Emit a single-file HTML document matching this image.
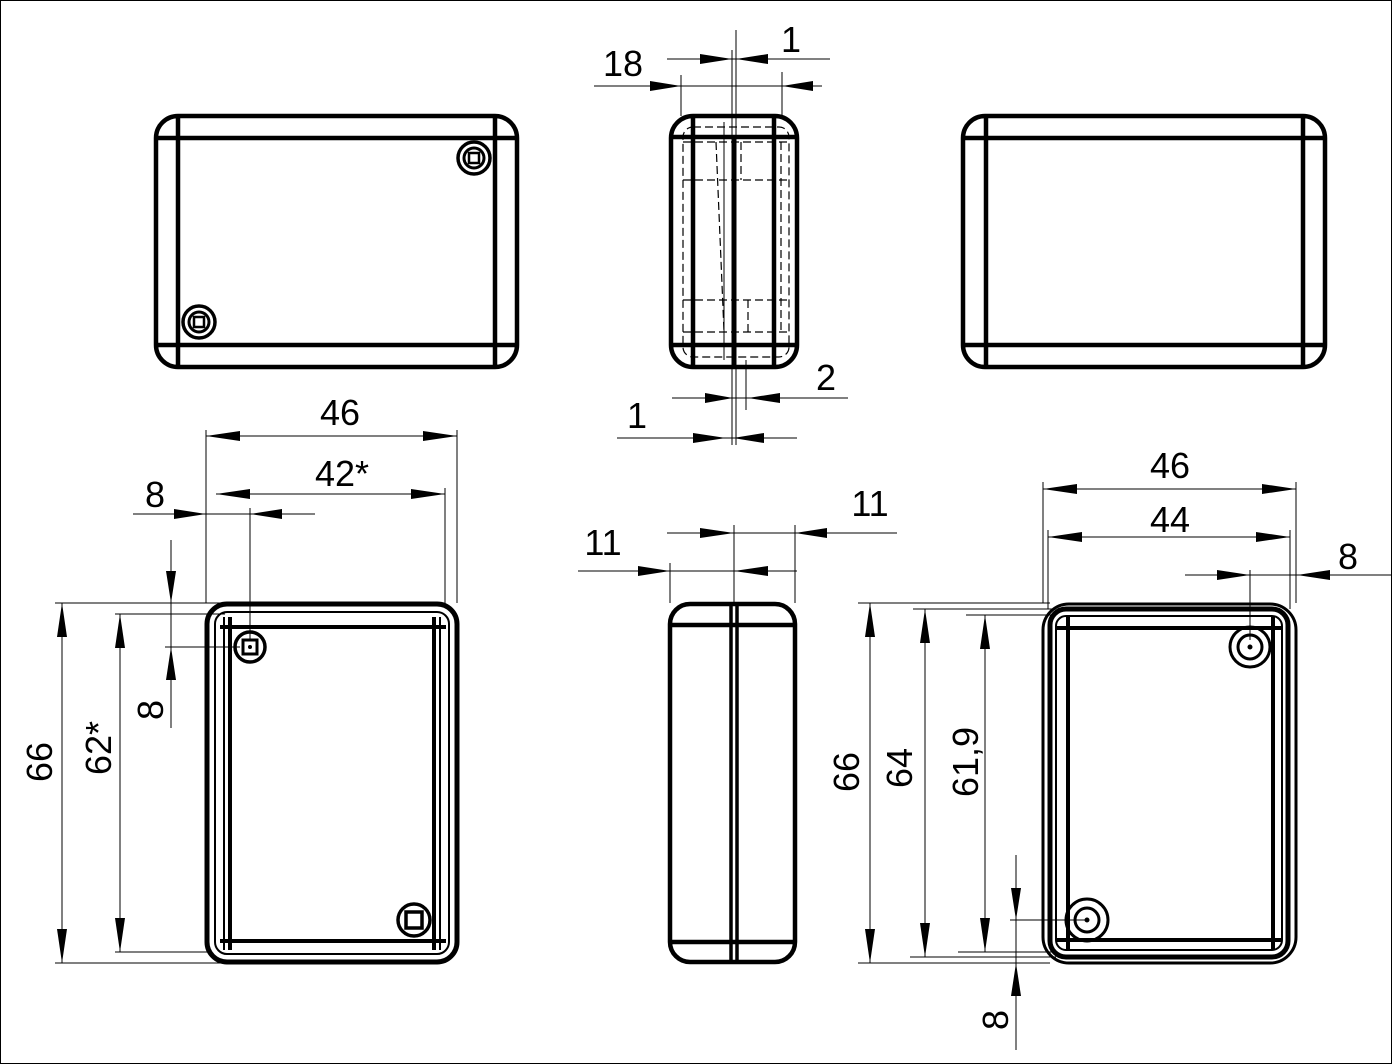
<!DOCTYPE html>
<html><head><meta charset="utf-8"><style>
html,body{margin:0;padding:0;background:#fff}
svg{display:block}
text{font-family:"Liberation Sans",Arial,sans-serif;font-size:36px;fill:#000}
</style></head><body>
<svg width="1392" height="1064" viewBox="0 0 1392 1064" xmlns="http://www.w3.org/2000/svg">
<rect x="0.5" y="0.5" width="1391" height="1063" fill="none" stroke="#000" stroke-width="1"/>
<g fill="none" stroke="#000">
<!-- Top-left view -->
<rect x="156" y="116" width="361" height="251" rx="22" stroke-width="4.5"/>
<line x1="156" y1="138" x2="517" y2="138" stroke-width="4.5"/>
<line x1="156" y1="345" x2="517" y2="345" stroke-width="4.5"/>
<line x1="178" y1="116" x2="178" y2="367" stroke-width="4.5"/>
<line x1="495" y1="116" x2="495" y2="367" stroke-width="4.5"/>
<circle cx="474" cy="158" r="16" stroke-width="3.5"/><circle cx="474" cy="158" r="10" stroke-width="3"/><rect x="469" y="153" width="10" height="10" stroke-width="2.5"/>
<circle cx="199" cy="322" r="16" stroke-width="3.5"/><circle cx="199" cy="322" r="10" stroke-width="3"/><rect x="194" y="317" width="10" height="10" stroke-width="2.5"/>
<!-- Top-right view -->
<rect x="963" y="116" width="362" height="251" rx="22" stroke-width="4.5"/>
<line x1="963" y1="138" x2="1325" y2="138" stroke-width="4.5"/>
<line x1="963" y1="345" x2="1325" y2="345" stroke-width="4.5"/>
<line x1="986" y1="116" x2="986" y2="367" stroke-width="4.5"/>
<line x1="1303" y1="116" x2="1303" y2="367" stroke-width="4.5"/>
<!-- Top-middle view -->
<rect x="671" y="116" width="126" height="251" rx="22" stroke-width="4.5"/>
<line x1="671" y1="137" x2="797" y2="137" stroke-width="4.5"/>
<line x1="671" y1="345" x2="797" y2="345" stroke-width="4.5"/>
<line x1="693" y1="116" x2="693" y2="367" stroke-width="4.5"/>
<line x1="734" y1="137" x2="734" y2="367" stroke-width="4.5"/>
<line x1="774" y1="116" x2="774" y2="367" stroke-width="4.5"/>
<g stroke-width="1.2" stroke-dasharray="8,4">
<rect x="683" y="127" width="106" height="230" rx="10"/>
<line x1="683" y1="142" x2="789" y2="142"/><line x1="683" y1="180" x2="789" y2="180"/>
<line x1="683" y1="300" x2="789" y2="300"/><line x1="683" y1="332" x2="789" y2="332"/>
<line x1="716" y1="142" x2="724" y2="332"/><line x1="741" y1="142" x2="741" y2="180"/>
<line x1="748" y1="300" x2="748" y2="332"/><line x1="781" y1="142" x2="781" y2="332"/>
</g>
<line x1="724" y1="122" x2="724" y2="360" stroke-width="1"/>
<line x1="732" y1="50" x2="732" y2="445" stroke-width="1"/>
<line x1="736" y1="30" x2="736" y2="445" stroke-width="1"/>
<line x1="746" y1="360" x2="746" y2="410" stroke-width="1"/>
<line x1="681" y1="75" x2="681" y2="116" stroke-width="1"/>
<line x1="782" y1="72" x2="782" y2="116" stroke-width="1"/>
<line x1="594" y1="86" x2="822" y2="86" stroke-width="1"/>
<line x1="667" y1="59" x2="830" y2="59" stroke-width="1"/>
<line x1="672" y1="398" x2="848" y2="398" stroke-width="1"/>
<line x1="617" y1="438" x2="797" y2="438" stroke-width="1"/>
<!-- Bottom-left view -->
<rect x="207" y="604" width="250" height="358" rx="20" stroke-width="5"/>
<rect x="215" y="612" width="234" height="342" rx="12" stroke-width="2"/>
<line x1="220" y1="627" x2="446" y2="627" stroke-width="4"/>
<line x1="220" y1="941" x2="446" y2="941" stroke-width="4"/>
<line x1="230" y1="617" x2="230" y2="950" stroke-width="4"/>
<line x1="434" y1="617" x2="434" y2="950" stroke-width="4"/>
<line x1="224" y1="617" x2="224" y2="950" stroke-width="2"/>
<line x1="440" y1="617" x2="440" y2="950" stroke-width="2"/>
<circle cx="250" cy="647" r="15" stroke-width="3.5"/><rect x="243" y="640" width="14" height="14" stroke-width="3"/><circle cx="250" cy="647" r="1.5" fill="#000"/>
<circle cx="414" cy="920" r="16" stroke-width="3.5"/><rect x="406" y="912" width="16" height="16" stroke-width="3.5"/>
<!-- dims bottom-left -->
<g stroke-width="1">
<line x1="206" y1="430" x2="206" y2="603"/><line x1="457" y1="430" x2="457" y2="603"/>
<line x1="445" y1="488" x2="445" y2="603"/><line x1="250" y1="508" x2="250" y2="640"/>
<line x1="206" y1="436" x2="457" y2="436"/><line x1="216" y1="494" x2="445" y2="494"/>
<line x1="133" y1="514" x2="315" y2="514"/>
<line x1="55" y1="603" x2="225" y2="603"/><line x1="55" y1="963" x2="225" y2="963"/>
<line x1="115" y1="614" x2="225" y2="614"/><line x1="115" y1="952" x2="210" y2="952"/>
<line x1="165" y1="647" x2="240" y2="647"/>
<line x1="62" y1="603" x2="62" y2="963"/><line x1="120" y1="614" x2="120" y2="952"/>
<line x1="171" y1="540" x2="171" y2="728"/>
</g>
<!-- Bottom-middle view -->
<rect x="670" y="604" width="125" height="358" rx="20" stroke-width="4.5"/>
<line x1="670" y1="625" x2="795" y2="625" stroke-width="4.5"/>
<line x1="670" y1="942" x2="795" y2="942" stroke-width="4.5"/>
<line x1="731" y1="604" x2="731" y2="962" stroke-width="3.5"/>
<line x1="737" y1="604" x2="737" y2="962" stroke-width="3.5"/>
<g stroke-width="1">
<line x1="670" y1="563" x2="670" y2="603"/><line x1="734" y1="525" x2="734" y2="603"/><line x1="795" y1="525" x2="795" y2="603"/>
<line x1="578" y1="571" x2="797" y2="571"/><line x1="667" y1="533" x2="897" y2="533"/>
</g>
<!-- Bottom-right view -->
<rect x="1043" y="604" width="253" height="359" rx="26" stroke-width="3"/>
<rect x="1050" y="609" width="238" height="348" rx="16" stroke-width="5"/>
<rect x="1056" y="616" width="226" height="334" rx="10" stroke-width="2"/>
<line x1="1056" y1="628" x2="1282" y2="628" stroke-width="4"/>
<line x1="1056" y1="940" x2="1282" y2="940" stroke-width="4"/>
<line x1="1068" y1="616" x2="1068" y2="950" stroke-width="4"/>
<line x1="1273" y1="616" x2="1273" y2="950" stroke-width="4"/>
<circle cx="1250" cy="647" r="20" stroke-width="3"/><circle cx="1250" cy="647" r="12" stroke-width="3"/><circle cx="1250" cy="647" r="2" fill="#000"/>
<circle cx="1087" cy="920" r="21" stroke-width="3"/><circle cx="1087" cy="920" r="12" stroke-width="3"/><circle cx="1087" cy="920" r="2" fill="#000"/>
<g stroke-width="1">
<line x1="1043" y1="482" x2="1043" y2="603"/><line x1="1296" y1="482" x2="1296" y2="603"/>
<line x1="1048" y1="530" x2="1048" y2="609"/><line x1="1290" y1="530" x2="1290" y2="609"/>
<line x1="1250" y1="570" x2="1250" y2="640"/>
<line x1="1043" y1="489" x2="1296" y2="489"/><line x1="1048" y1="537" x2="1290" y2="537"/>
<line x1="1185" y1="575" x2="1392" y2="575"/>
<line x1="858" y1="603" x2="1050" y2="603"/><line x1="913" y1="609" x2="1056" y2="609"/><line x1="966" y1="615" x2="1056" y2="615"/>
<line x1="958" y1="952" x2="1056" y2="952"/><line x1="910" y1="957" x2="1056" y2="957"/><line x1="858" y1="963" x2="1050" y2="963"/>
<line x1="1010" y1="920" x2="1087" y2="920"/>
<line x1="870" y1="603" x2="870" y2="963"/><line x1="925" y1="609" x2="925" y2="957"/><line x1="985" y1="615" x2="985" y2="952"/>
<line x1="1016" y1="855" x2="1016" y2="1050"/>
</g>
</g>
<!-- arrowheads -->
<g fill="#000">
<polygon points="681,86 650,81 650,91"/><polygon points="782,86 813,81 813,91"/>
<polygon points="732,59 700,54 700,64"/><polygon points="736,59 768,54 768,64"/>
<polygon points="733,398 705,393 705,403"/><polygon points="748,398 780,393 780,403"/>
<polygon points="726,438 693,433 693,443"/><polygon points="733,438 764,433 764,443"/>
<polygon points="206,436 240,431 240,441"/><polygon points="457,436 423,431 423,441"/>
<polygon points="216,494 250,489 250,499"/><polygon points="445,494 411,489 411,499"/>
<polygon points="206,514 174,509 174,519"/><polygon points="250,514 282,509 282,519"/>
<polygon points="62,603 57,637 67,637"/><polygon points="62,963 57,929 67,929"/>
<polygon points="120,614 115,648 125,648"/><polygon points="120,952 115,918 125,918"/>
<polygon points="171,603 166,571 176,571"/><polygon points="171,647 166,680 176,680"/>
<polygon points="670,571 638,566 638,576"/><polygon points="734,571 768,566 768,576"/>
<polygon points="734,533 700,528 700,538"/><polygon points="795,533 827,528 827,538"/>
<polygon points="1043,489 1077,484 1077,494"/><polygon points="1296,489 1262,484 1262,494"/>
<polygon points="1048,537 1082,532 1082,542"/><polygon points="1290,537 1256,532 1256,542"/>
<polygon points="1250,575 1217,570 1217,580"/><polygon points="1297,575 1330,570 1330,580"/>
<polygon points="870,603 865,637 875,637"/><polygon points="870,963 865,929 875,929"/>
<polygon points="925,609 920,643 930,643"/><polygon points="925,957 920,923 930,923"/>
<polygon points="985,615 980,649 990,649"/><polygon points="985,952 980,918 990,918"/>
<polygon points="1016,920 1011,888 1021,888"/><polygon points="1016,963 1011,996 1021,996"/>
</g>
<!-- labels -->
<text x="623" y="76" text-anchor="middle">18</text>
<text x="791" y="52" text-anchor="middle">1</text>
<text x="826" y="390" text-anchor="middle">2</text>
<text x="637" y="428" text-anchor="middle">1</text>
<text x="340" y="425" text-anchor="middle">46</text>
<text x="342" y="486" text-anchor="middle">42*</text>
<text x="155" y="507" text-anchor="middle">8</text>
<text transform="translate(52,762) rotate(-90)" text-anchor="middle">66</text>
<text transform="translate(111,748) rotate(-90)" text-anchor="middle">62*</text>
<text transform="translate(163,710) rotate(-90)" text-anchor="middle">8</text>
<text x="603" y="555" text-anchor="middle">11</text>
<text x="870" y="516" text-anchor="middle">11</text>
<text x="1170" y="478" text-anchor="middle">46</text>
<text x="1170" y="532" text-anchor="middle">44</text>
<text x="1348" y="569" text-anchor="middle">8</text>
<text transform="translate(859,772) rotate(-90)" text-anchor="middle">66</text>
<text transform="translate(912,768) rotate(-90)" text-anchor="middle">64</text>
<text transform="translate(978,762) rotate(-90)" text-anchor="middle">61,9</text>
<text transform="translate(1008,1020) rotate(-90)" text-anchor="middle">8</text>
</svg>
</body></html>
